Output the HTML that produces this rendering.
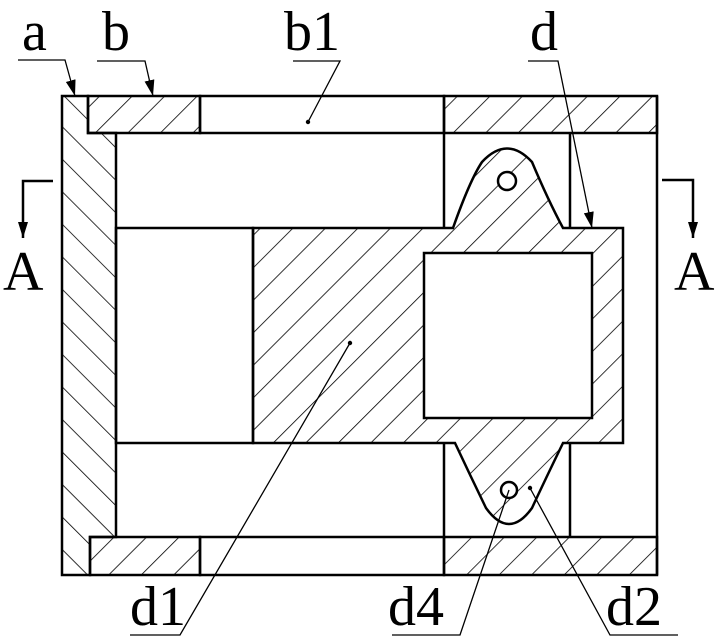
<!DOCTYPE html>
<html><head><style>body{margin:0;background:#fff}svg{display:block}</style></head><body>
<svg width="719" height="643" viewBox="0 0 719 643" xmlns="http://www.w3.org/2000/svg">
<defs>
<pattern id="h1" patternUnits="userSpaceOnUse" width="23" height="23" patternTransform="rotate(45)">
<line x1="0" y1="0" x2="0" y2="23" stroke="#000" stroke-width="1.6"/></pattern>
<pattern id="h2" patternUnits="userSpaceOnUse" width="23" height="23" patternTransform="rotate(-45)">
<line x1="0" y1="0" x2="0" y2="23" stroke="#000" stroke-width="1.6"/></pattern>
<marker id="ar" markerWidth="16" markerHeight="10" refX="16" refY="5" orient="auto" markerUnits="userSpaceOnUse" viewBox="0 0 16 10"><path d="M0,0 L16,5 L0,10 Z" fill="#000"/></marker>
</defs>
<g stroke="#000" stroke-width="2.5" fill="none">
<path d="M62,96 L62,575 L90,575 L90,537 L116,537 L116,133 L88,133 L88,96 Z" fill="url(#h2)"/>
<rect x="88" y="96" width="112" height="37" fill="url(#h1)"/>
<rect x="200" y="96" width="244" height="37"/>
<rect x="444" y="96" width="213" height="37" fill="url(#h1)"/>
<rect x="90" y="537" width="110" height="38" fill="url(#h1)"/>
<rect x="200" y="537" width="244" height="38"/>
<rect x="444" y="537" width="213" height="38" fill="url(#h1)"/>
<line x1="657" y1="96" x2="657" y2="575"/>
<line x1="444" y1="133" x2="444" y2="228"/>
<line x1="570" y1="133" x2="570" y2="228"/>
<line x1="444" y1="443" x2="444" y2="537"/>
<line x1="570" y1="443" x2="570" y2="537"/>
<rect x="116" y="228" width="137" height="215"/>
<path d="M253,228 L453,228 Q470,180 482,162 Q507,135 532,162 Q548,200 563,228 L623,228 L623,443 L563,443 Q545,480 532,508 Q509,540 486,508 Q470,475 455,443 L253,443 Z" fill="url(#h1)"/>
<rect x="424" y="253" width="168" height="165" fill="#fff"/>
<circle cx="507" cy="181" r="9" fill="#fff"/>
<circle cx="509" cy="490" r="8" fill="#fff"/>
</g>
<g stroke="#000" stroke-width="1.3" fill="none">
<path d="M18,60 L65,60 L75,96" marker-end="url(#ar)"/>
<path d="M97,61 L145,61 L153,96" marker-end="url(#ar)"/>
<path d="M293,61 L340,61 L308,122"/>
<path d="M528,61 L558,61 L592,228" marker-end="url(#ar)"/>
<path d="M130,635 L180,635 L350,343"/>
<path d="M392,635 L460,635 L509,490"/>
<path d="M678,635 L610,635 L530,488"/>
<path d="M53,181 L23,181 L23,238" stroke-width="2.5" marker-end="url(#ar)"/>
<path d="M662,180 L693,180 L693,238" stroke-width="2.5" marker-end="url(#ar)"/>
</g>
<circle cx="308" cy="122" r="2.2"/><circle cx="350" cy="343" r="2.2"/><circle cx="530" cy="488" r="2.2"/>
<g font-family="Liberation Serif, serif" font-size="56" fill="#000">
<text x="22" y="50">a</text><text x="102" y="50">b</text><text x="284" y="50">b1</text><text x="530" y="50">d</text>
<text x="3" y="290">A</text><text x="674" y="290">A</text>
<text x="130" y="625">d1</text><text x="388" y="625">d4</text><text x="606" y="625">d2</text>
</g>
</svg>
</body></html>
